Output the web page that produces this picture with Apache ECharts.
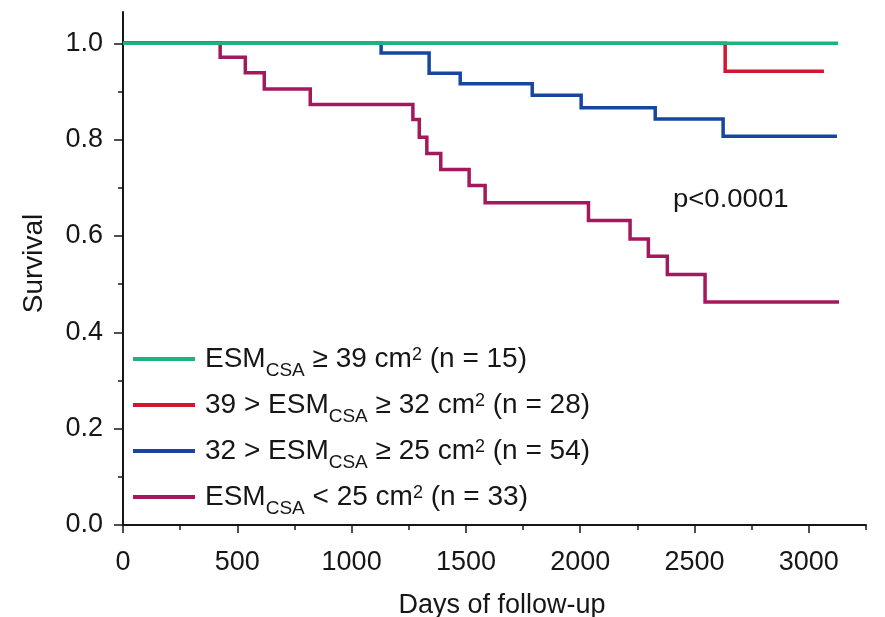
<!DOCTYPE html>
<html>
<head>
<meta charset="utf-8">
<script src="https://cdn.jsdelivr.net/npm/echarts@6/dist/echarts.min.js"></script>
<style>
  html, body { margin: 0; padding: 0; background: #ffffff; }
  #chart { width: 885px; height: 617px; }
</style>
</head>
<body>
<div id="chart"></div>
<script>
// Kaplan–Meier survival by ESM cross-sectional area group.
// Each group: event times (days) and survival value after the step at that time.
const timesGe39 = [0, 3128];
const survGe39 = [1.0, 1.0];

const times32to39 = [0, 2634, 3066];
const surv32to39 = [1.0, 0.942, 0.942];

const times25to32 = [0, 1129, 1339, 1475, 1790, 2004, 2328, 2625, 3123];
const surv25to32 = [1.0, 0.980, 0.938, 0.916, 0.892, 0.866, 0.843, 0.807, 0.807];

const timesLt25 = [0, 425, 535, 618, 819, 1268, 1296, 1329, 1390, 1514, 1584, 2036, 2218, 2298, 2381, 2546, 3132];
const survLt25 = [1.0, 0.971, 0.939, 0.905, 0.873, 0.842, 0.805, 0.771, 0.738, 0.705, 0.669, 0.632, 0.594, 0.558, 0.520, 0.463, 0.463];

// Group labels (plain names) and their rich-text forms with subscript/superscript
const groupNames = [
  'ESMCSA ≥ 39 cm2 (n = 15)',
  '39 > ESMCSA ≥ 32 cm2 (n = 28)',
  '32 > ESMCSA ≥ 25 cm2 (n = 54)',
  'ESMCSA < 25 cm2 (n = 33)'
];
const groupLabelsRich = [
  '{t0|ESM}{sub|CSA}{t| ≥ 39 cm}{sup|2}{t| (n = 15)}',
  '{t0|39 > ESM}{sub|CSA}{t| ≥ 32 cm}{sup|2}{t| (n = 28)}',
  '{t0|32 > ESM}{sub|CSA}{t| ≥ 25 cm}{sup|2}{t| (n = 54)}',
  '{t0|ESM}{sub|CSA}{t| < 25 cm}{sup|2}{t| (n = 33)}'
];

// Axis ticks
const xMajorTicks = [0, 500, 1000, 1500, 2000, 2500, 3000];
const xMinorTicks = [250, 750, 1250, 1750, 2250, 2750, 3250];
const yMajorTicks = [0, 0.2, 0.4, 0.6, 0.8, 1.0];
const yMinorTicks = [0.1, 0.3, 0.5, 0.7, 0.9];

const xTitle = 'Days of follow-up';
const yTitle = 'Survival';
const pValueText = 'p<0.0001';

const COLORS = {
  ge39: '#1fb27f',
  c32to39: '#d3162f',
  c25to32: '#1646a0',
  lt25: '#a4185c'
};

const FONT = '"Liberation Sans", Arial, Helvetica, sans-serif';
const INK = '#161616';

const zip = (xs, ys) => xs.map((x, i) => [x, ys[i]]);

const chart = echarts.init(document.getElementById('chart'), null, { renderer: 'canvas' });

const xRange = { min: 0, max: 3250 };
const yRange = { min: 0, max: 1.065 };

function stepSeries(name, times, surv, color, z) {
  return {
    name: name,
    type: 'line',
    step: 'end',
    xAxisIndex: 0,
    yAxisIndex: 0,
    data: zip(times, surv),
    showSymbol: false,
    symbol: 'none',
    z: z,
    lineStyle: { color: color, width: 3.5, cap: 'butt', join: 'miter' },
    itemStyle: { color: color },
    emphasis: { disabled: true }
  };
}

const option = {
  backgroundColor: '#ffffff',
  animation: false,
  grid: { left: 123, right: 19, top: 12, bottom: 92, containLabel: false, outerBoundsMode: 'none' },
  xAxis: [
    {
      type: 'value',
      position: 'bottom',
      min: xRange.min, max: xRange.max,
      name: xTitle,
      nameLocation: 'middle',
      nameGap: 67,
      nameTextStyle: { fontSize: 27, color: INK, fontFamily: FONT, padding: [0, 0, 0, 15] },
      axisLine: { show: true, lineStyle: { color: INK, width: 2 } },
      axisTick: { show: true, length: 8, lineStyle: { color: INK, width: 1.5 }, customValues: xMajorTicks },
      axisLabel: {
        show: true, margin: 24, fontSize: 27, color: INK, fontFamily: FONT,
        customValues: xMajorTicks,
        formatter: v => String(v)
      },
      splitLine: { show: false }
    },
    {
      type: 'value',
      position: 'bottom',
      min: xRange.min, max: xRange.max,
      axisLine: { show: false },
      axisTick: { show: true, length: 5, lineStyle: { color: INK, width: 1.5 }, customValues: xMinorTicks },
      axisLabel: { show: false },
      splitLine: { show: false }
    }
  ],
  yAxis: [
    {
      type: 'value',
      position: 'left',
      min: yRange.min, max: yRange.max,
      name: yTitle,
      nameLocation: 'middle',
      nameRotate: 90,
      nameGap: 75,
      nameTextStyle: { fontSize: 28, color: INK, fontFamily: FONT, padding: [0, 0, 0, 10] },
      axisLine: { show: true, lineStyle: { color: INK, width: 2 } },
      axisTick: { show: true, length: 9, lineStyle: { color: INK, width: 1.5 }, customValues: yMajorTicks },
      axisLabel: {
        show: true, margin: 20, fontSize: 27, color: INK, fontFamily: FONT,
        customValues: yMajorTicks,
        formatter: v => v.toFixed(1)
      },
      splitLine: { show: false }
    },
    {
      type: 'value',
      position: 'left',
      min: yRange.min, max: yRange.max,
      axisLine: { show: false },
      axisTick: { show: true, length: 5, lineStyle: { color: INK, width: 1.5 }, customValues: yMinorTicks },
      axisLabel: { show: false },
      splitLine: { show: false }
    }
  ],
  legend: {
    orient: 'vertical',
    left: 133,
    top: 345,
    padding: 0,
    itemWidth: 62,
    itemHeight: 4,
    itemGap: 11,
    icon: 'rect',
    selectedMode: false,
    data: groupNames,
    formatter: name => groupLabelsRich[groupNames.indexOf(name)],
    textStyle: {
      color: INK,
      fontFamily: FONT,
      fontSize: 28,
      rich: {
        t0: { fontSize: 28, color: INK, fontFamily: FONT, padding: [0, 0, 0, 5] },
        t: { fontSize: 28, color: INK, fontFamily: FONT },
        sub: { fontSize: 19, color: INK, fontFamily: FONT, padding: [23, 0, 0, 0] },
        sup: { fontSize: 18, color: INK, fontFamily: FONT, padding: [0, 0, 8, 0] }
      }
    }
  },
  graphic: [
    {
      type: 'text',
      left: 673,
      top: 188,
      scaleX: 1.1,
      style: { text: pValueText, fontSize: 25, fill: INK, fontFamily: FONT }
    }
  ],
  series: [
    stepSeries(groupNames[3], timesLt25, survLt25, COLORS.lt25, 2),
    stepSeries(groupNames[2], times25to32, surv25to32, COLORS.c25to32, 3),
    stepSeries(groupNames[1], times32to39, surv32to39, COLORS.c32to39, 4),
    stepSeries(groupNames[0], timesGe39, survGe39, COLORS.ge39, 5)
  ]
};

chart.setOption(option);
</script>
</body>
</html>
